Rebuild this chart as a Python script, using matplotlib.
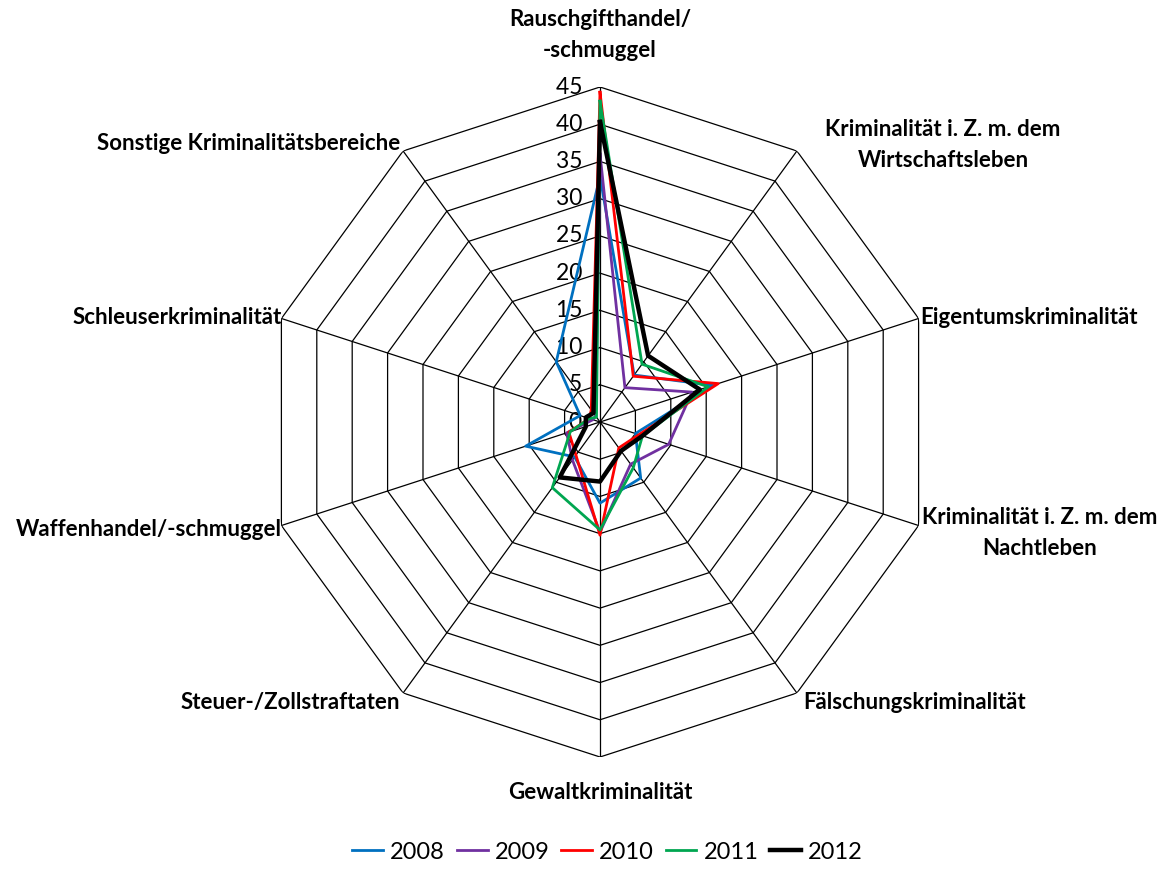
import numpy as np
import matplotlib
matplotlib.use("Agg")
import matplotlib.pyplot as plt

plt.rcParams["font.family"] = ["Lato", "DejaVu Sans"]

categories = [
    "Rauschgifthandel/\n-schmuggel",
    "Kriminalität i. Z. m. dem\nWirtschaftsleben",
    "Eigentumskriminalität",
    "Kriminalität i. Z. m. dem\nNachtleben",
    "Fälschungskriminalität",
    "Gewaltkriminalität",
    "Steuer-/Zollstraftaten",
    "Waffenhandel/-schmuggel",
    "Schleuserkriminalität",
    "Sonstige Kriminalitätsbereiche",
]
years = ["2008", "2009", "2010", "2011", "2012"]
v2008 = [33.0, 7.8, 15.9, 5.0, 9.3, 10.9, 5.8, 10.5, 2.8, 10.0]
v2009 = [36.0, 5.7, 13.0, 9.7, 7.0, 14.8, 6.3, 4.7, 1.0, 1.0]
v2010 = [44.3, 7.6, 16.7, 5.5, 4.3, 15.2, 5.5, 4.4, 1.5, 2.0]
v2011 = [43.1, 9.6, 15.3, 6.0, 7.6, 14.5, 10.9, 4.2, 1.5, 0.8]
v2012 = [40.3, 11.0, 14.1, 6.0, 4.8, 8.0, 9.2, 2.0, 2.0, 1.5]
ticks = [0, 5, 10, 15, 20, 25, 30, 35, 40, 45]

series = [v2008, v2009, v2010, v2011, v2012]
colors = ["#0070C0", "#7030A0", "#FF0000", "#00A650", "#000000"]
widths = [2.0, 2.0, 2.0, 2.0, 3.2]

W, H = 1164, 888
fig = plt.figure(figsize=(W / 100, H / 100), dpi=100)

cx, cy, R = 600, 422, 335
ax = fig.add_axes([(cx - R) / W, 1 - (cy + R) / H, 2 * R / W, 2 * R / H], polar=True)
ax.set_theta_zero_location("N")
ax.set_theta_direction(-1)
ax.set_ylim(0, 45)
ax.axis("off")

n = len(categories)
ang = np.arange(n) * 2 * np.pi / n
ang_c = np.append(ang, ang[0])

# polygon grid + spokes
for t in ticks[1:]:
    ax.plot(ang_c, [t] * (n + 1), color="black", lw=0.9, zorder=1)
for a in ang:
    ax.plot([a, a], [0, 45], color="black", lw=0.9, zorder=1)

for vals, col, lw, yr in zip(series, colors, widths, years):
    ax.plot(ang_c, vals + vals[:1], color=col, lw=lw, label=yr, zorder=3)

# radial tick labels left of the vertical spoke
for t in ticks:
    ax.text(0, t, str(t) + "   ", ha="right", va="center", fontsize=16.5, zorder=2)

def px(x, y, s, ha, **kw):
    fig.text(x / W, 1 - y / H, s, ha=ha, va="center", fontsize=16,
             fontweight="bold", linespacing=1.55, **kw)

px(600, 35, categories[0], "center")
px(943, 145, categories[1], "center")
px(920, 318, categories[2], "left")
px(1040, 533, categories[3], "center")
px(803, 702, categories[4], "left")
px(600, 792, categories[5], "center")
px(400, 702, categories[6], "right")
px(282, 530, categories[7], "right")
px(282, 318, categories[8], "right")
px(400, 143, categories[9], "right")

fig.legend(loc="center", bbox_to_anchor=(0.522, 1 - 852 / H), ncol=5, frameon=False,
           fontsize=17, handlelength=1.3, handletextpad=0.3, columnspacing=0.5)

fig.savefig("out.png", dpi=100)
